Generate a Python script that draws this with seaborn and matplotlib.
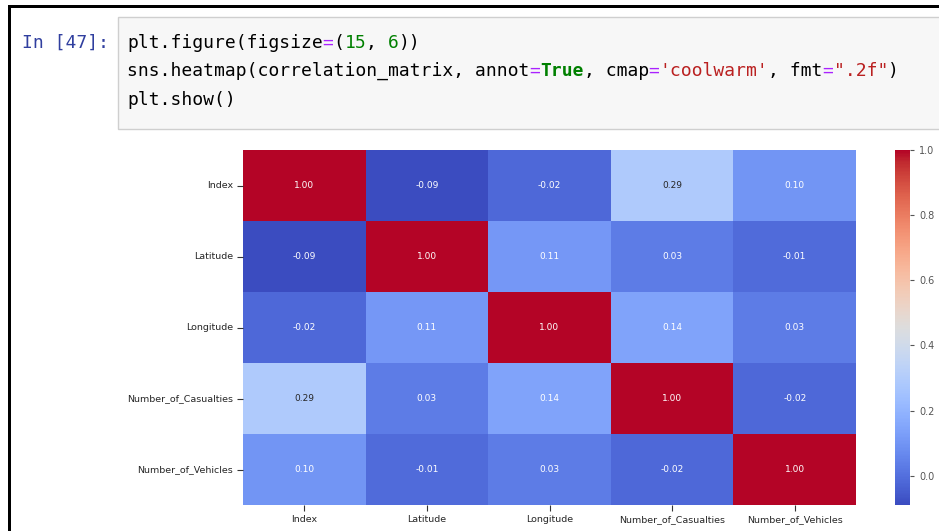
import numpy as np
import pandas as pd
import matplotlib
matplotlib.use("Agg")
import matplotlib.pyplot as plt
import seaborn as sns
from matplotlib.patches import Rectangle

# Correlation matrix of the accident dataset
columns = ["Index", "Latitude", "Longitude", "Number_of_Casualties", "Number_of_Vehicles"]
corr_index = [1.00, -0.09, -0.02, 0.29, 0.10]
corr_latitude = [-0.09, 1.00, 0.11, 0.03, -0.01]
corr_longitude = [-0.02, 0.11, 1.00, 0.14, 0.03]
corr_casualties = [0.29, 0.03, 0.14, 1.00, -0.02]
corr_vehicles = [0.10, -0.01, 0.03, -0.02, 1.00]

correlation_matrix = pd.DataFrame(
    [corr_index, corr_latitude, corr_longitude, corr_casualties, corr_vehicles],
    index=columns, columns=columns,
)

W, H = 939, 531
fig = plt.figure(figsize=(W / 100, H / 100), dpi=100)


def box(x0, y0, x1, y1):
    return [x0 / W, 1 - y1 / H, (x1 - x0) / W, (y1 - y0) / H]


# Notebook cell frame
fig.patches.append(Rectangle((8 / W, 0), 3 / W, 1 - 5 / H, transform=fig.transFigure,
                             facecolor="black", edgecolor="none"))
fig.patches.append(Rectangle((8 / W, 1 - 8 / H), 1, 3 / H, transform=fig.transFigure,
                             facecolor="black", edgecolor="none"))
fig.patches.append(Rectangle((118 / W, 1 - 129 / H), 1, 112 / H, transform=fig.transFigure,
                             facecolor="#f7f7f7", edgecolor="#cfcfcf", linewidth=1.0))

mono = "DejaVu Sans Mono"
fsize = 13
char_w = 0.602 * fsize * 100 / 72

fig.text(22 / W, 1 - 43 / H, "In [47]:", color="#303F9F", family=mono,
         fontsize=fsize, va="center", ha="left")

black, purple, green, red = "#000000", "#AA22FF", "#008000", "#BA2121"
code_lines = [
    [("plt.figure(figsize", black, "normal"), ("=", purple, "normal"), ("(", black, "normal"),
     ("15", green, "normal"), (", ", black, "normal"), ("6", green, "normal"), ("))", black, "normal")],
    [("sns.heatmap(correlation_matrix, annot", black, "normal"), ("=", purple, "normal"),
     ("True", green, "bold"), (", cmap", black, "normal"), ("=", purple, "normal"),
     ("'coolwarm'", red, "normal"), (", fmt", black, "normal"), ("=", purple, "normal"),
     ('".2f"', red, "normal"), (")", black, "normal")],
    [("plt.show()", black, "normal")],
]
line_y = [43, 71, 100]
for y, tokens in zip(line_y, code_lines):
    x = 127
    for text, color, weight in tokens:
        fig.text(x / W, 1 - y / H, text, color=color, family=mono, fontsize=fsize,
                 fontweight=weight, va="center", ha="left")
        x += len(text) * char_w

# Heatmap output
ax = fig.add_axes(box(243, 150, 856, 505))
cax = fig.add_axes(box(895, 150, 910, 505))
sns.heatmap(correlation_matrix, annot=True, cmap="coolwarm", fmt=".2f", ax=ax, cbar_ax=cax,
            annot_kws={"fontsize": 6.5})
ax.tick_params(labelsize=6.8, colors="#333333", labelcolor="#262626", length=4, pad=3)
cax.tick_params(labelsize=7, colors="#555555", length=3)
plt.setp(ax.get_yticklabels(), rotation=0)
plt.setp(ax.get_xticklabels(), rotation=0)

fig.savefig("out.png", dpi=100)
